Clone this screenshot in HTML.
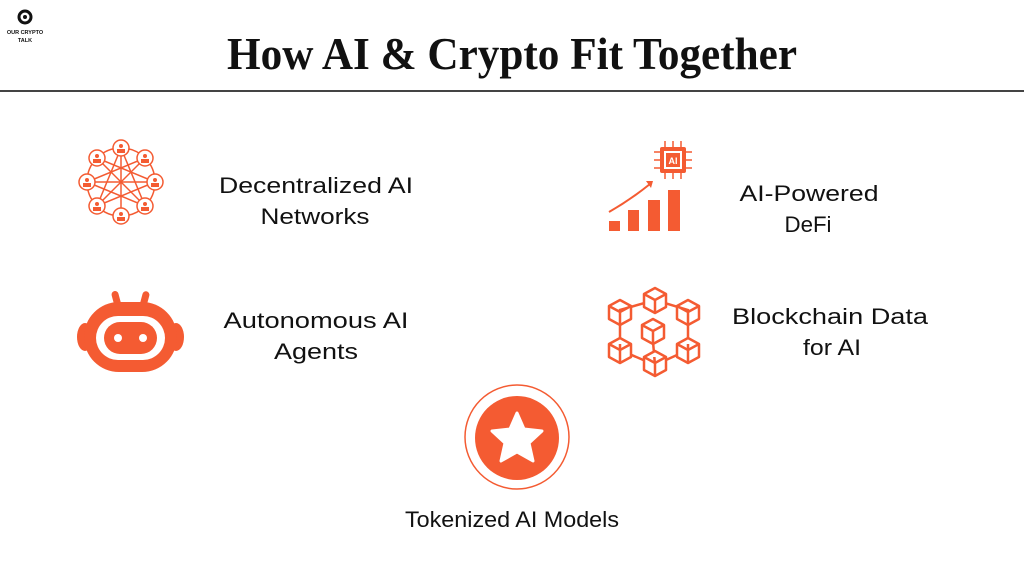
<!DOCTYPE html>
<html><head><meta charset="utf-8"><style>
html,body{margin:0;padding:0;background:#fff;width:1024px;height:576px;overflow:hidden}
svg{display:block}
.t{font-family:"Liberation Sans",sans-serif;font-size:22px;fill:#111;text-anchor:middle}
</style></head><body>
<svg width="1024" height="576" viewBox="0 0 1024 576" xmlns="http://www.w3.org/2000/svg">
<!-- logo -->
<circle cx="25" cy="17" r="6" fill="none" stroke="#111" stroke-width="3"/>
<circle cx="25" cy="17" r="2" fill="#111"/>
<text x="25" y="34" font-family="Liberation Sans,sans-serif" font-size="5.5" font-weight="bold" text-anchor="middle" fill="#111">OUR CRYPTO</text>
<text x="25" y="42" font-family="Liberation Sans,sans-serif" font-size="5.5" font-weight="bold" text-anchor="middle" fill="#111">TALK</text>
<!-- title -->
<text x="512" y="69" font-family="Liberation Serif,serif" font-size="46" font-weight="bold" text-anchor="middle" fill="#111" textLength="570" lengthAdjust="spacingAndGlyphs">How AI &amp; Crypto Fit Together</text>
<rect x="0" y="90" width="1024" height="2" fill="#444"/>

<!-- network icon -->
<g stroke="#f45b32" stroke-width="1.5" fill="none">
<circle cx="121" cy="182" r="34"/>
<line x1="121" y1="148" x2="121" y2="216"/><line x1="87" y1="182" x2="155" y2="182"/>
<line x1="97" y1="158" x2="145" y2="206"/><line x1="145" y1="158" x2="97" y2="206"/>
<line x1="121" y1="148" x2="97" y2="206"/><line x1="121" y1="148" x2="145" y2="206"/>
<line x1="87" y1="182" x2="145" y2="158"/><line x1="87" y1="182" x2="145" y2="206"/>
<line x1="155" y1="182" x2="97" y2="158"/><line x1="155" y1="182" x2="97" y2="206"/>
</g>
<g fill="#fff" stroke="#f45b32" stroke-width="1.5">
<circle cx="121" cy="148" r="8"/><circle cx="121" cy="216" r="8"/>
<circle cx="87" cy="182" r="8"/><circle cx="155" cy="182" r="8"/>
<circle cx="97" cy="158" r="8"/><circle cx="145" cy="158" r="8"/>
<circle cx="97" cy="206" r="8"/><circle cx="145" cy="206" r="8"/>
</g>
<g fill="#f45b32">
<circle cx="121" cy="146" r="2"/><rect x="117" y="149" width="8" height="4"/>
<circle cx="121" cy="214" r="2"/><rect x="117" y="217" width="8" height="4"/>
<circle cx="87" cy="180" r="2"/><rect x="83" y="183" width="8" height="4"/>
<circle cx="155" cy="180" r="2"/><rect x="151" y="183" width="8" height="4"/>
<circle cx="97" cy="156" r="2"/><rect x="93" y="159" width="8" height="4"/>
<circle cx="145" cy="156" r="2"/><rect x="141" y="159" width="8" height="4"/>
<circle cx="97" cy="204" r="2"/><rect x="93" y="207" width="8" height="4"/>
<circle cx="145" cy="204" r="2"/><rect x="141" y="207" width="8" height="4"/>
</g>

<!-- robot -->
<g fill="#f45b32">
<rect x="113" y="291" width="7" height="20" rx="3.5" transform="rotate(-15 116 300)"/>
<rect x="141" y="291" width="7" height="20" rx="3.5" transform="rotate(15 144 300)"/>
<ellipse cx="85" cy="337" rx="8" ry="14"/>
<ellipse cx="176" cy="337" rx="8" ry="14"/>
<rect x="84" y="302" width="93" height="70" rx="35"/>
<rect x="96" y="316" width="69" height="44" rx="22" fill="#fff"/>
<rect x="104" y="322" width="53" height="32" rx="16"/>
<circle cx="118" cy="338" r="4" fill="#fff"/><circle cx="143" cy="338" r="4" fill="#fff"/>
</g>

<!-- DeFi chart -->
<g fill="#f45b32">
<rect x="609" y="221" width="11" height="10"/>
<rect x="628" y="210" width="11" height="21"/>
<rect x="648" y="200" width="12" height="31"/>
<rect x="668" y="190" width="12" height="41"/>
<rect x="660" y="147" width="26" height="26" rx="2"/>
</g>
<path d="M609 212 Q630 200 650 184" stroke="#f45b32" stroke-width="2" fill="none"/>
<path d="M646 181 L653 181 L651 188 Z" fill="#f45b32"/>
<g stroke="#f45b32" stroke-width="1.5">
<line x1="665" y1="141" x2="665" y2="147"/><line x1="673" y1="141" x2="673" y2="147"/><line x1="681" y1="141" x2="681" y2="147"/>
<line x1="665" y1="173" x2="665" y2="179"/><line x1="673" y1="173" x2="673" y2="179"/><line x1="681" y1="173" x2="681" y2="179"/>
<line x1="654" y1="152" x2="660" y2="152"/><line x1="654" y1="160" x2="660" y2="160"/><line x1="654" y1="168" x2="660" y2="168"/>
<line x1="686" y1="152" x2="692" y2="152"/><line x1="686" y1="160" x2="692" y2="160"/><line x1="686" y1="168" x2="692" y2="168"/>
</g>
<rect x="664" y="151" width="18" height="18" fill="#fff"/>
<rect x="666" y="153" width="14" height="14" fill="#f45b32"/>
<text x="673" y="164" font-family="Liberation Sans,sans-serif" font-size="9" font-weight="bold" fill="#fff" text-anchor="middle">AI</text>

<!-- blockchain -->
<g stroke="#f45b32" stroke-width="2.5" fill="none">
<path d="M620 310 L655 300 L688 310 L688 350 L655 365 L620 350 Z"/>
<line x1="652" y1="330" x2="655" y2="365"/>
</g>
<g stroke="#f45b32" stroke-width="2.5" fill="#fff" stroke-linejoin="round">
<g transform="translate(655,300)"><path d="M-11 -6 L0 -12 L11 -6 L11 7 L0 13 L-11 7 Z M-11 -6 L0 0 L11 -6 M0 0 L0 13"/></g>
<g transform="translate(620,312)"><path d="M-11 -6 L0 -12 L11 -6 L11 7 L0 13 L-11 7 Z M-11 -6 L0 0 L11 -6 M0 0 L0 13"/></g>
<g transform="translate(688,312)"><path d="M-11 -6 L0 -12 L11 -6 L11 7 L0 13 L-11 7 Z M-11 -6 L0 0 L11 -6 M0 0 L0 13"/></g>
<g transform="translate(653,331)"><path d="M-11 -6 L0 -12 L11 -6 L11 7 L0 13 L-11 7 Z M-11 -6 L0 0 L11 -6 M0 0 L0 13"/></g>
<g transform="translate(620,350)"><path d="M-11 -6 L0 -12 L11 -6 L11 7 L0 13 L-11 7 Z M-11 -6 L0 0 L11 -6 M0 0 L0 13"/></g>
<g transform="translate(688,350)"><path d="M-11 -6 L0 -12 L11 -6 L11 7 L0 13 L-11 7 Z M-11 -6 L0 0 L11 -6 M0 0 L0 13"/></g>
<g transform="translate(655,363)"><path d="M-11 -6 L0 -12 L11 -6 L11 7 L0 13 L-11 7 Z M-11 -6 L0 0 L11 -6 M0 0 L0 13"/></g>
</g>

<!-- star -->
<circle cx="517" cy="437" r="52" fill="none" stroke="#f45b32" stroke-width="1.5"/>
<circle cx="517" cy="438" r="42" fill="#f45b32"/>
<path d="M517 413 L524 429 L542 431 L529 443 L533 461 L517 452 L501 461 L505 443 L492 431 L510 429 Z" fill="#fff" stroke="#fff" stroke-width="3" stroke-linejoin="round"/>

<!-- labels -->
<text class="t" x="316" y="193" textLength="194" lengthAdjust="spacingAndGlyphs">Decentralized AI</text>
<text class="t" x="315" y="224" textLength="109" lengthAdjust="spacingAndGlyphs">Networks</text>
<text class="t" x="809" y="201" textLength="139" lengthAdjust="spacingAndGlyphs">AI-Powered</text>
<text class="t" x="808" y="232" textLength="47" lengthAdjust="spacingAndGlyphs">DeFi</text>
<text class="t" x="316" y="328" textLength="185" lengthAdjust="spacingAndGlyphs">Autonomous AI</text>
<text class="t" x="316" y="359" textLength="84" lengthAdjust="spacingAndGlyphs">Agents</text>
<text class="t" x="830" y="324" textLength="196" lengthAdjust="spacingAndGlyphs">Blockchain Data</text>
<text class="t" x="832" y="355" textLength="58" lengthAdjust="spacingAndGlyphs">for AI</text>
<text class="t" x="512" y="527" textLength="214" lengthAdjust="spacingAndGlyphs">Tokenized AI Models</text>
</svg>
</body></html>
